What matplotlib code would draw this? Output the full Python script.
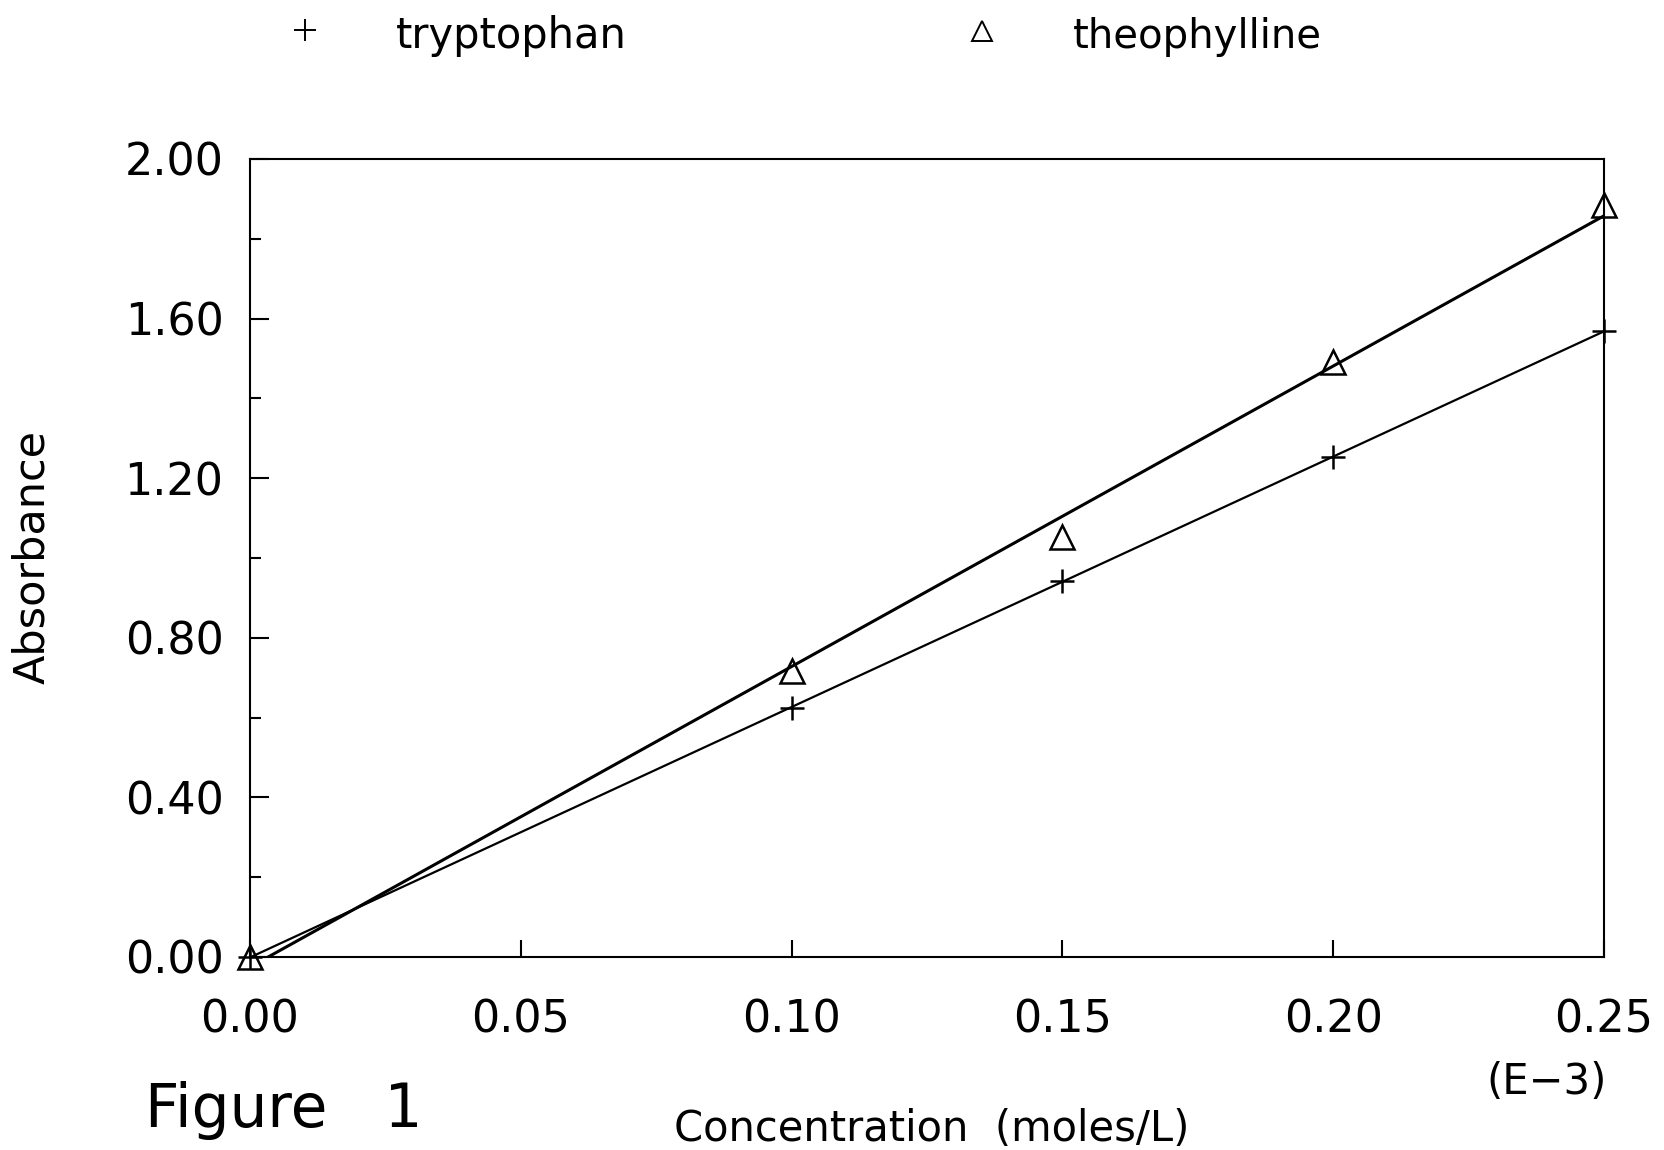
import numpy as np
import matplotlib
matplotlib.use("Agg")
import matplotlib.pyplot as plt
from matplotlib.lines import Line2D
from matplotlib.ticker import MultipleLocator, FormatStrFormatter

# data (concentration in units of 1E-3 mol/L)
conc = [0.00, 0.10, 0.15, 0.20, 0.25]
tryptophan = [0.00, 0.624, 0.942, 1.253, 1.569]
theophylline = [0.00, 0.717, 1.053, 1.491, 1.885]

W, H = 1665, 1150
plt.rcParams["font.family"] = ["DejaVu Sans"]

fig = plt.figure(figsize=(W / 100, H / 100), dpi=100)
ax = fig.add_axes([250 / W, 1 - 957 / H, (1604 - 250) / W, (957 - 159) / H])

# least-squares lines
xs = np.array([0.0, 0.25])
for y, lw in [(tryptophan, 1.6), (theophylline, 2.2)]:
    k, b = np.polyfit(conc, y, 1)
    ax.plot(xs, k * xs + b, color="black", lw=lw, solid_capstyle="butt")

ax.plot(conc, tryptophan, ls="none", marker="+", ms=17, mew=1.8, color="black", clip_on=False)
ax.plot(conc, theophylline, ls="none", marker="^", ms=17, mew=1.8, mfc="none", mec="black", clip_on=False)

ax.set_xlim(0, 0.25)
ax.set_ylim(0, 2.0)
ax.xaxis.set_major_locator(MultipleLocator(0.05))
ax.xaxis.set_major_formatter(FormatStrFormatter("%.2f"))
ax.yaxis.set_major_locator(MultipleLocator(0.4))
ax.yaxis.set_minor_locator(MultipleLocator(0.2))
ax.yaxis.set_major_formatter(FormatStrFormatter("%.2f"))

ax.tick_params(axis="x", which="major", direction="in", length=12, width=1.5, pad=30, labelsize=32)
ax.tick_params(axis="y", which="major", direction="in", length=14, width=1.5, pad=19, labelsize=32)
ax.tick_params(axis="y", which="minor", direction="in", length=8, width=1.5)
for s in ax.spines.values():
    s.set_linewidth(1.5)

# legend at the top
fig.add_artist(Line2D([305 / W], [1 - 30 / H], marker="+", ms=16, mew=1.4, color="black", ls="none"))
fig.text(396 / W, 1 - 48 / H, "tryptophan", fontsize=30, va="baseline", ha="left")
fig.add_artist(Line2D([982 / W], [1 - 31 / H], marker="^", ms=15, mew=1.4, mfc="none", mec="black", ls="none"))
fig.text(1073 / W, 1 - 48 / H, "theophylline", fontsize=29, va="baseline", ha="left")

fig.text(32 / W, 1 - 557 / H, "Absorbance", fontsize=31, rotation=90, ha="center", va="center")
fig.text(932 / W, 1 - 1141 / H, "Concentration  (moles/L)", fontsize=30, ha="center", va="baseline")
fig.text(1547 / W, 1 - 1094 / H, "(E\u22123)", fontsize=30, ha="center", va="baseline")
fig.text(145 / W, 1 - 1127 / H, "Figure   1", fontsize=43, ha="left", va="baseline")

fig.savefig("out.png", dpi=100, facecolor="white")
